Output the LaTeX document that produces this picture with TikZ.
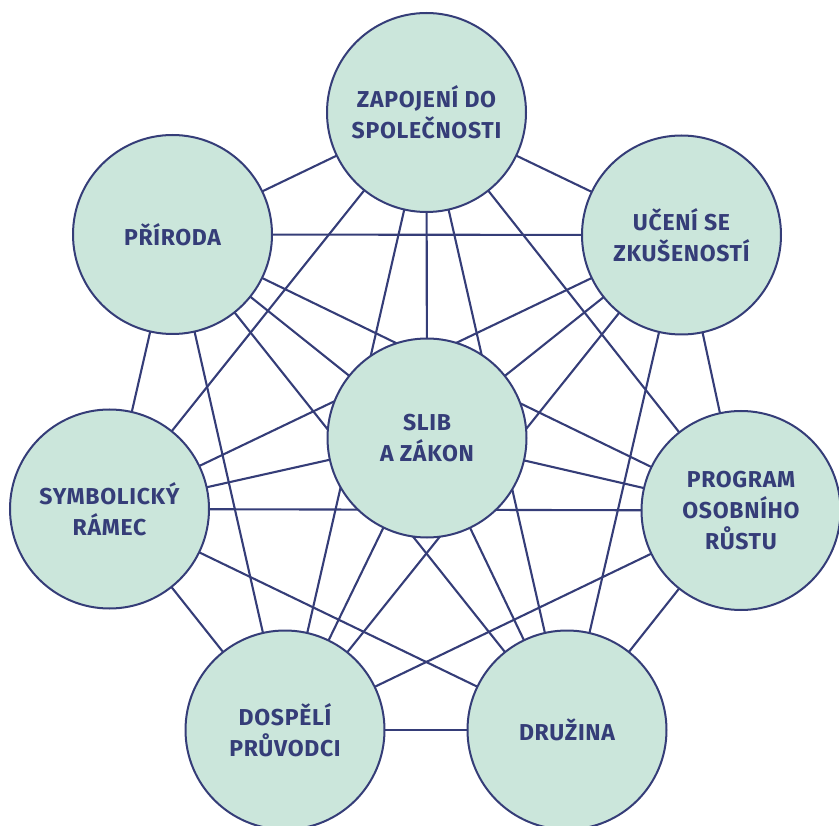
\documentclass[tikz,border=0pt]{standalone}
\usepackage{fontspec}
\setmainfont{Fira Sans}[BoldFont={Fira Sans Bold}]
\usetikzlibrary{backgrounds}
\definecolor{navy}{HTML}{353D78}
\definecolor{mint}{HTML}{CBE6DB}
\begin{document}
\begin{tikzpicture}[x=1pt,y=-1pt,
  topic/.style={circle,draw=navy,fill=mint,line width=2pt,minimum size=199pt,inner sep=0pt,
    text=navy,align=center,font=\fontsize{23}{31}\selectfont\bfseries\addfontfeatures{LetterSpace=3}},
  link/.style={draw=navy,line width=2.1pt}]
\useasboundingbox (0,0) rectangle (839,826);
\node[topic] (zap) at (426.5,112.5) {ZAPOJENÍ DO\\SPOLEČNOSTI};
\node[topic] (uce) at (681.5,235) {UČENÍ SE\\ZKUŠENOSTÍ};
\node[topic] (pro) at (741,510.5) {PROGRAM\\OSOBNÍHO\\RŮSTU};
\node[topic] (dru) at (567,730) {DRUŽINA};
\node[topic] (dos) at (285,730) {DOSPĚLÍ\\PRŮVODCI};
\node[topic] (sym) at (109.5,509) {SYMBOLICKÝ\\RÁMEC};
\node[topic] (pri) at (172.5,234.5) {PŘÍRODA};
\node[topic] (sli) at (427,438) {SLIB\\A ZÁKON};
\begin{scope}[on background layer]
\foreach \a/\b in {zap/uce,zap/pro,zap/dru,zap/dos,zap/sym,zap/pri,zap/sli,
  uce/pro,uce/dru,uce/dos,uce/sym,uce/pri,uce/sli,
  pro/dru,pro/dos,pro/sym,pro/pri,pro/sli,
  dru/dos,dru/sym,dru/pri,dru/sli,
  dos/sym,dos/pri,dos/sli,
  sym/pri,sym/sli,
  pri/sli}
  \draw[link] (\a.center) -- (\b.center);
\end{scope}
\end{tikzpicture}
\end{document}
